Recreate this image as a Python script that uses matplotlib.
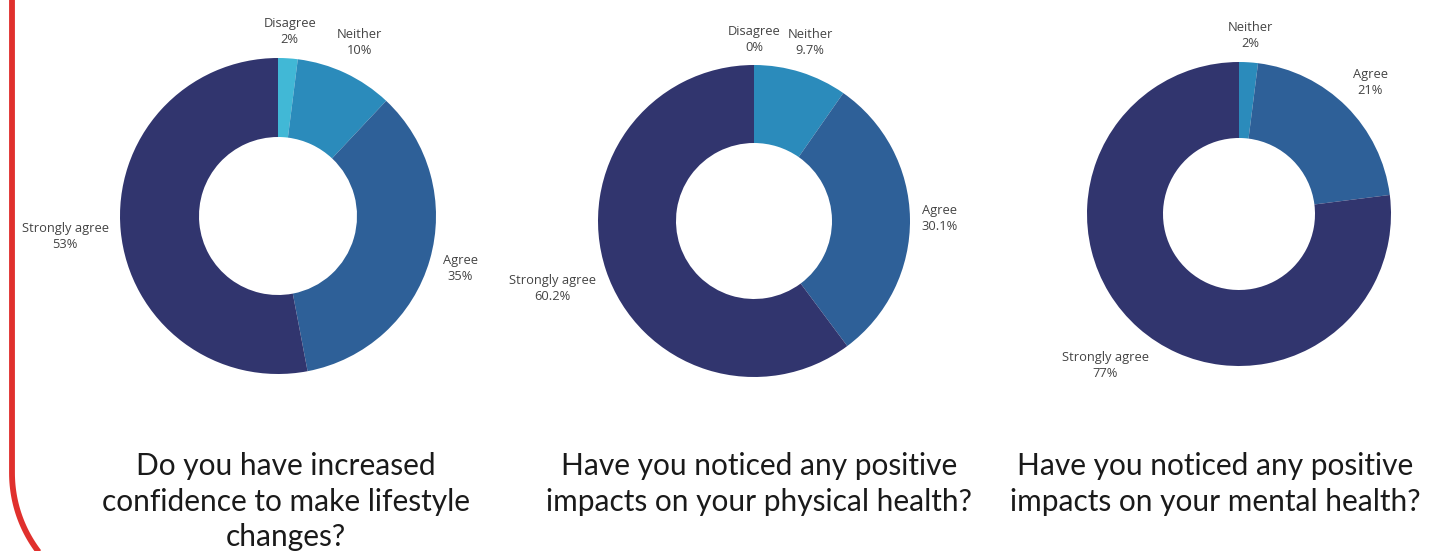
import numpy as np
import matplotlib.pyplot as plt
from matplotlib.path import Path
from matplotlib.patches import PathPatch

# survey answers, drawn clockwise from 12 o'clock
answers = ['Disagree', 'Neither', 'Agree', 'Strongly agree']
colors = ['#41b8d6', '#2b8bbb', '#2e6098', '#31356e']

confidence = [2, 10, 35, 53]
confidence_txt = ['2%', '10%', '35%', '53%']

physical = [0, 9.7, 30.1, 60.2]
physical_txt = ['0%', '9.7%', '30.1%', '60.2%']

mental = [0, 2, 21, 77]
mental_txt = [None, '2%', '21%', '77%']

questions = [
    'Do you have increased\nconfidence to make lifestyle\nchanges?',
    'Have you noticed any positive\nimpacts on your physical health?',
    'Have you noticed any positive\nimpacts on your mental health?',
]

W, H = 1432, 551
fig = plt.figure(figsize=(W / 100, H / 100), dpi=100)

# red rounded frame edge on the left
R = 130
x0, y0 = 12, 473
theta = np.linspace(np.pi, np.pi + 0.93, 40)
xs = [x0, x0] + list(x0 + R + R * np.cos(theta))
ys = [-10, y0] + list(y0 - R * np.sin(theta))
verts = [(x / W, 1 - y / H) for x, y in zip(xs, ys)]
fig.add_artist(PathPatch(Path(verts), transform=fig.transFigure, fill=False,
                         edgecolor='#e0302d', lw=4.2, capstyle='butt'))


def donut(cx, cy, r, values, texts):
    ax = fig.add_axes([(cx - r) / W, 1 - (cy + r) / H, 2 * r / W, 2 * r / H])
    ax.pie(values, colors=colors, startangle=90, counterclock=False, radius=1,
           wedgeprops=dict(width=0.5, linewidth=0))
    ax.set_xlim(-1, 1)
    ax.set_ylim(-1, 1)
    ax.set_aspect('equal')
    ax.axis('off')
    renderer = fig.canvas.get_renderer()
    total = sum(values)
    start = 0
    for name, v, t in zip(answers, values, texts):
        mid = (start + v / 2) / total * 2 * np.pi
        start += v
        if t is None:
            continue
        s, c = np.sin(mid), np.cos(mid)
        txt = ax.text(0, 0, f'{name}\n{t}', ha='center', va='center',
                      fontsize=9.3, color='#444444', family='Open Sans',
                      linespacing=1.3, clip_on=False)
        bb = txt.get_window_extent(renderer)
        hw = bb.width / 2 / r
        hh = bb.height / 2 / r
        rr = 1.07 + hw * abs(s) + hh * abs(c)
        txt.set_position((rr * s, rr * c))
    return ax


donut(278, 216, 158, confidence, confidence_txt)
donut(754, 221, 156, physical, physical_txt)
donut(1239, 214, 152, mental, mental_txt)

for x, q in zip([286, 759, 1215], questions):
    fig.text(x / W, 1 - 452 / H, q, ha='center', va='top', fontsize=21.5,
             family='Lato', color='#1a1a1a', linespacing=1.33)

fig.savefig('out.png', dpi=100, facecolor='white')
